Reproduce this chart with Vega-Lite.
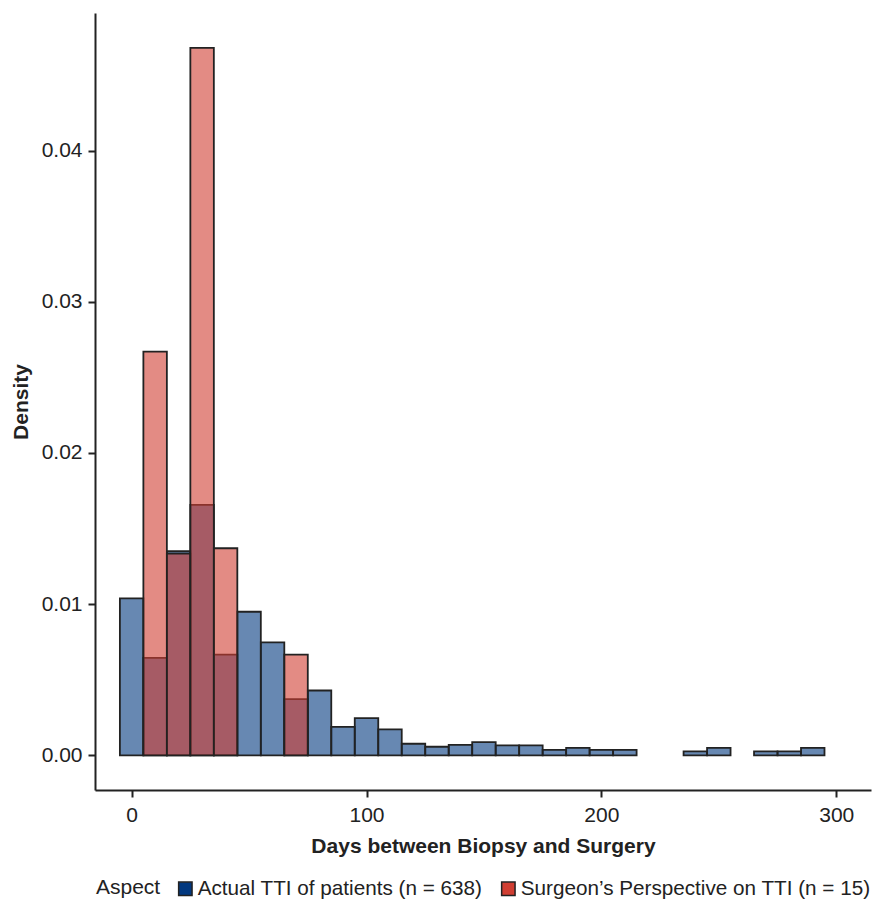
{
  "$schema": "https://vega.github.io/schema/vega-lite/v6.json",
  "width": 776,
  "height": 777,
  "autosize": "none",
  "padding": {"left": 95, "top": 13, "right": 9, "bottom": 109},
  "background": "white",
  "config": {
    "view": {"stroke": null},
    "font": "Liberation Sans",
    "axis": {
      "grid": false,
      "domainColor": "#222222",
      "domainWidth": 2,
      "tickColor": "#222222",
      "tickWidth": 2,
      "tickSize": 7,
      "labelFontSize": 21,
      "labelColor": "#222222",
      "labelFont": "Liberation Sans",
      "titleFontSize": 21,
      "titleFontWeight": "bold",
      "titleColor": "#222222",
      "titleFont": "Liberation Sans"
    }
  },
  "data": {
    "values": [
      {"aspect": "Actual TTI of patients (n = 638)", "start": -5, "end": 5, "density": 0.01038},
      {"aspect": "Actual TTI of patients (n = 638)", "start": 5, "end": 15, "density": 0.00645},
      {"aspect": "Actual TTI of patients (n = 638)", "start": 15, "end": 25, "density": 0.0135},
      {"aspect": "Actual TTI of patients (n = 638)", "start": 25, "end": 35, "density": 0.01657},
      {"aspect": "Actual TTI of patients (n = 638)", "start": 35, "end": 45, "density": 0.00667},
      {"aspect": "Actual TTI of patients (n = 638)", "start": 45, "end": 55, "density": 0.0095},
      {"aspect": "Actual TTI of patients (n = 638)", "start": 55, "end": 65, "density": 0.00748},
      {"aspect": "Actual TTI of patients (n = 638)", "start": 65, "end": 75, "density": 0.00372},
      {"aspect": "Actual TTI of patients (n = 638)", "start": 75, "end": 85, "density": 0.00429},
      {"aspect": "Actual TTI of patients (n = 638)", "start": 85, "end": 95, "density": 0.00189},
      {"aspect": "Actual TTI of patients (n = 638)", "start": 95, "end": 105, "density": 0.00246},
      {"aspect": "Actual TTI of patients (n = 638)", "start": 105, "end": 115, "density": 0.00172},
      {"aspect": "Actual TTI of patients (n = 638)", "start": 115, "end": 125, "density": 0.00077},
      {"aspect": "Actual TTI of patients (n = 638)", "start": 125, "end": 135, "density": 0.00057},
      {"aspect": "Actual TTI of patients (n = 638)", "start": 135, "end": 145, "density": 0.0007},
      {"aspect": "Actual TTI of patients (n = 638)", "start": 145, "end": 155, "density": 0.00088},
      {"aspect": "Actual TTI of patients (n = 638)", "start": 155, "end": 165, "density": 0.00066},
      {"aspect": "Actual TTI of patients (n = 638)", "start": 165, "end": 175, "density": 0.00066},
      {"aspect": "Actual TTI of patients (n = 638)", "start": 175, "end": 185, "density": 0.00037},
      {"aspect": "Actual TTI of patients (n = 638)", "start": 185, "end": 195, "density": 0.0005},
      {"aspect": "Actual TTI of patients (n = 638)", "start": 195, "end": 205, "density": 0.00037},
      {"aspect": "Actual TTI of patients (n = 638)", "start": 205, "end": 215, "density": 0.00037},
      {"aspect": "Actual TTI of patients (n = 638)", "start": 235, "end": 245, "density": 0.00026},
      {"aspect": "Actual TTI of patients (n = 638)", "start": 245, "end": 255, "density": 0.0005},
      {"aspect": "Actual TTI of patients (n = 638)", "start": 265, "end": 275, "density": 0.00026},
      {"aspect": "Actual TTI of patients (n = 638)", "start": 275, "end": 285, "density": 0.00026},
      {"aspect": "Actual TTI of patients (n = 638)", "start": 285, "end": 295, "density": 0.0005},
      {"aspect": "Surgeon’s Perspective on TTI (n = 15)", "start": 5, "end": 15, "density": 0.0267},
      {"aspect": "Surgeon’s Perspective on TTI (n = 15)", "start": 15, "end": 25, "density": 0.01335},
      {"aspect": "Surgeon’s Perspective on TTI (n = 15)", "start": 25, "end": 35, "density": 0.0468},
      {"aspect": "Surgeon’s Perspective on TTI (n = 15)", "start": 35, "end": 45, "density": 0.0137},
      {"aspect": "Surgeon’s Perspective on TTI (n = 15)", "start": 65, "end": 75, "density": 0.00667}
    ]
  },
  "mark": {"type": "bar", "fillOpacity": 0.6, "stroke": "#222222", "strokeWidth": 1.8, "strokeOpacity": 1},
  "encoding": {
    "x": {
      "field": "start",
      "type": "quantitative",
      "scale": {"domain": [-15.6, 314.8], "nice": false, "zero": false},
      "axis": {"values": [0, 100, 200, 300], "title": "Days between Biopsy and Surgery", "labelPadding": 7, "titlePadding": 10}
    },
    "x2": {"field": "end"},
    "y": {
      "field": "density",
      "type": "quantitative",
      "stack": null,
      "scale": {"domain": [-0.00229, 0.0491], "nice": false, "zero": false},
      "axis": {"values": [0, 0.01, 0.02, 0.03, 0.04], "format": ".2f", "title": "Density", "labelPadding": 6, "titlePadding": 10}
    },
    "y2": {"datum": 0},
    "color": {
      "field": "aspect",
      "type": "nominal",
      "scale": {
        "domain": ["Actual TTI of patients (n = 638)", "Surgeon’s Perspective on TTI (n = 15)"],
        "range": ["#02387f", "#d03e32"]
      },
      "legend": {
        "title": "Aspect",
        "orient": "none",
        "legendX": 1,
        "legendY": 865,
        "direction": "horizontal",
        "titleOrient": "left",
        "titleFontWeight": "normal",
        "titleFontSize": 21,
        "titleColor": "#222222",
        "titleFont": "Liberation Sans",
        "titlePadding": 14,
        "labelFontSize": 20.7,
        "labelColor": "#222222",
        "labelFont": "Liberation Sans",
        "labelLimit": 0,
        "labelOffset": 2,
        "columnPadding": 15,
        "symbolType": "square",
        "symbolSize": 180,
        "symbolOpacity": 1,
        "symbolStrokeColor": "#222222",
        "symbolStrokeWidth": 1.5,
        "encode": {
          "symbols": {
            "update": {
              "fill": [
                {"test": "datum.value === 'Actual TTI of patients (n = 638)'", "value": "#0d4a8c"},
                {"value": "#c8102e"}
              ],
              "fillOpacity": {"value": 1},
              "stroke": {"value": "#222222"},
              "strokeWidth": {"value": 1.5}
            }
          }
        }
      }
    }
  }
}
